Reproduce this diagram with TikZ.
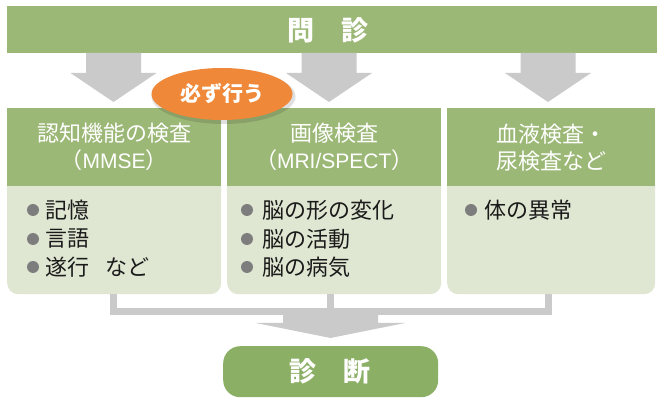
\documentclass[tikz,border=0pt]{standalone}
\usepackage{fontspec}
\newfontfamily\jp{Noto Sans CJK JP}
\newfontfamily\lat{Liberation Sans}
\usetikzlibrary{shapes.geometric}
\definecolor{barG}{HTML}{9CB877}
\definecolor{bodyG}{HTML}{DFE7D2}
\definecolor{dxG}{HTML}{8CAF66}
\definecolor{arrG}{HTML}{C9CAC9}
\definecolor{orng}{HTML}{EF8838}
\definecolor{bulG}{HTML}{7D7D7D}
\definecolor{txt}{HTML}{1A1A1A}
\tikzset{
  bodybox/.style={fill=bodyG, rounded corners=11pt, anchor=north west, minimum height=186pt, inner sep=0pt},
  hdrbox/.style={fill=barG, anchor=north west, minimum height=78pt, inner sep=0pt, text=white, align=center, font=\jp\fontsize{22}{27}\selectfont},
  item/.style={anchor=west, inner sep=0pt, text=txt, font=\jp\fontsize{22}{22}\selectfont},
  bulletdot/.style={circle, fill=bulG, minimum size=12pt, inner sep=0pt},
  grayarrow/.style={fill=arrG},
  conn/.style={draw=arrG, line width=7pt, line join=miter},
  bigtitle/.style={text=white, inner sep=0pt, font=\jp\bfseries\fontsize{27}{27}\selectfont},
}
\begin{document}
\begin{tikzpicture}[x=1pt,y=-1pt]
\useasboundingbox (0,0) rectangle (657,398);
% top bar
\node[fill=barG, anchor=north west, minimum width=650pt, minimum height=47pt, inner sep=0pt] (bar) at (7,6) {};
\node[bigtitle] (bartxt) at (328,30) {問　診};
% arrows from bar
\foreach \x in {113.5,329,548}{
  \fill[grayarrow] (\x-27.5,53) -- (\x+27.5,53) -- (\x+27.5,73) -- (\x+43,73) -- (\x,102) -- (\x-43,73) -- (\x-27.5,73) -- cycle;
}
% boxes
\node[bodybox, minimum width=214pt] (b1) at (7,108) {};
\node[hdrbox, minimum width=214pt] (h1) at (7,108) {認知機能の検査\\（{\lat\fontsize{21}{27}\selectfont MMSE}）};
\node[bodybox, minimum width=214pt] (b2) at (227,108) {};
\node[hdrbox, minimum width=214pt] (h2) at (227,108) {画像検査\\（{\lat\fontsize{21}{27}\selectfont MRI/SPECT}）};
\node[bodybox, minimum width=208pt] (b3) at (447,108) {};
\node[hdrbox, minimum width=208pt] (h3) at (447,108) {血液検査・\\尿検査など};
% items
\node[bulletdot] (d11) at (33,210) {}; \node[item] (t11) at (45,210) {記憶};
\node[bulletdot] (d12) at (33,239) {}; \node[item] (t12) at (45,239) {言語};
\node[bulletdot] (d13) at (33,267) {}; \node[item] (t13) at (45,267) {遂行\hspace{0.75em}など};
\node[bulletdot] (d21) at (247,210) {}; \node[item] (t21) at (262,210) {脳の形の変化};
\node[bulletdot] (d22) at (247,239) {}; \node[item] (t22) at (262,239) {脳の活動};
\node[bulletdot] (d23) at (247,267) {}; \node[item] (t23) at (262,267) {脳の病気};
\node[bulletdot] (d31) at (471,210) {}; \node[item] (t31) at (484,210) {体の異常};
% connectors
\coordinate (c1) at (113.5,294);
\coordinate (c2) at (330.5,294);
\coordinate (c3) at (548,294);
\coordinate (j) at (330.5,311.5);
\draw[conn] (c1) |- (c3 |- j) -- (c3);
\draw[conn] (c2) -- (j);
\fill[grayarrow] (283,311) -- (378,311) -- (378,323) -- (405,323) -- (330.5,338) -- (256,323) -- (283,323) -- cycle;
% diagnosis
\node[fill=dxG, rounded corners=17pt, anchor=north west, minimum width=215pt, minimum height=51pt, inner sep=0pt] (dx) at (223,346) {};
\node[bigtitle] (dxtxt) at (330,371) {診　断};
% must badge
\node[ellipse, fill=black, opacity=0.12, minimum width=144pt, minimum height=55pt, inner sep=0pt] (mustsh) at (223.5,96.5) {};
\node[ellipse, fill=orng, minimum width=141pt, minimum height=52pt, inner sep=0pt, text=white, font=\jp\bfseries\fontsize{21}{21}\selectfont] (must) at (222,94) {必ず行う};
\end{tikzpicture}
\end{document}
